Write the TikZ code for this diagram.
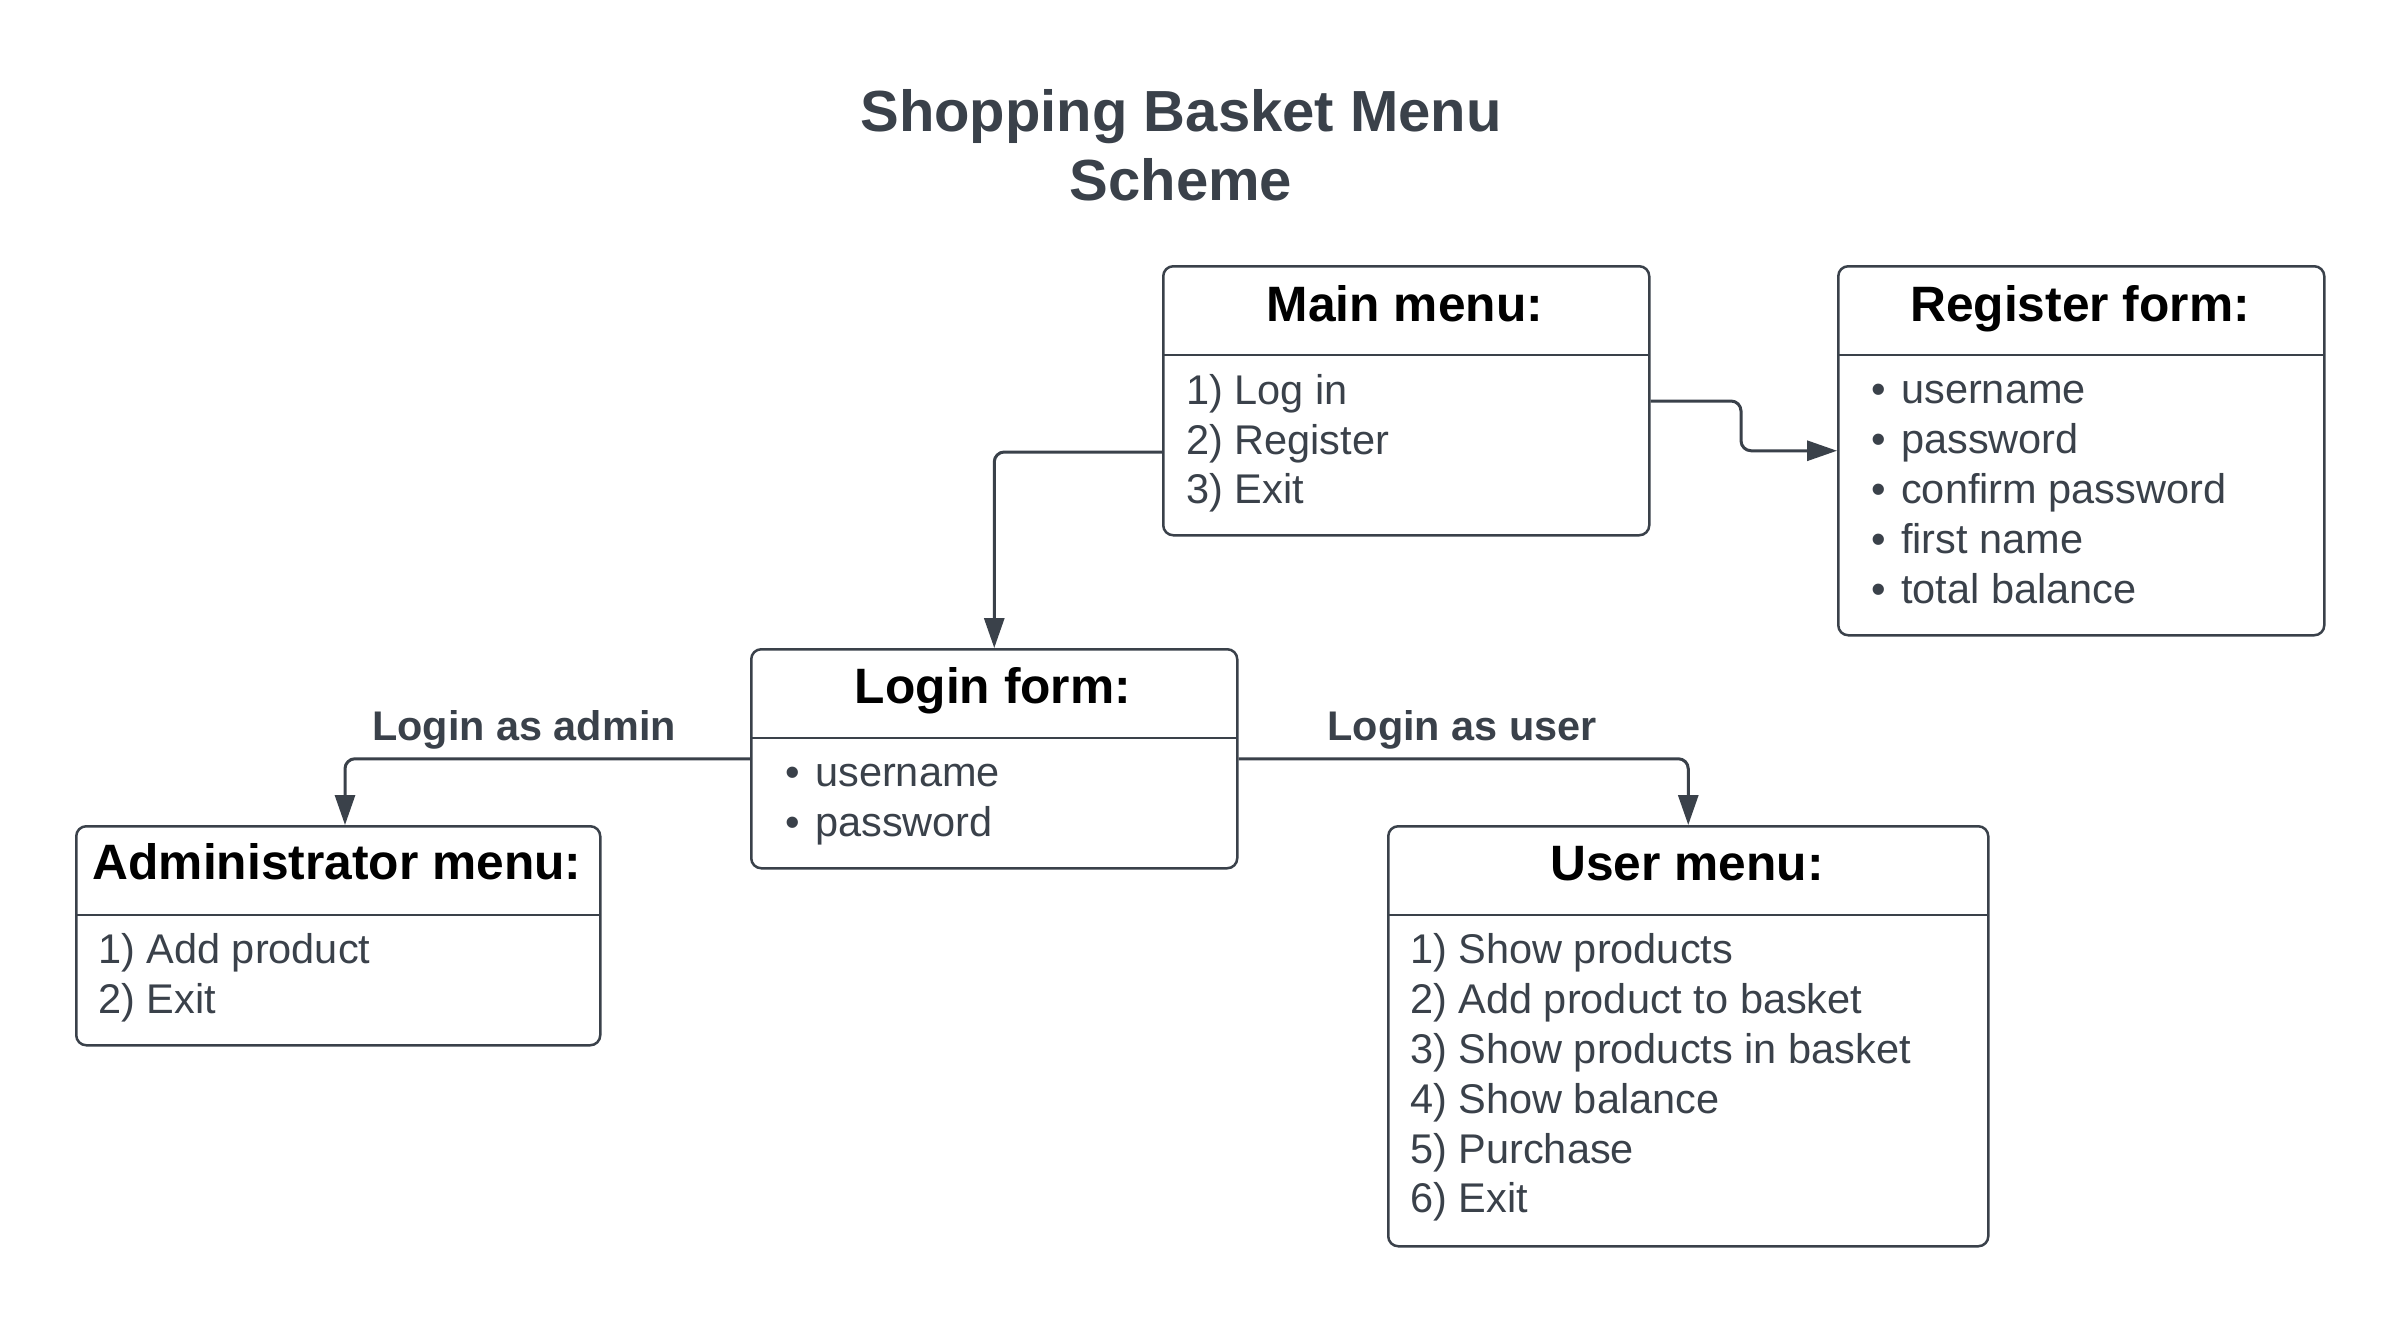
\documentclass[tikz,border=0pt]{standalone}
\usepackage{fontspec}
\setmainfont{Liberation Sans}
\usetikzlibrary{arrows.meta}
\definecolor{ink}{HTML}{3A414A}
\begin{document}
\begin{tikzpicture}[x=1pt,y=-1pt,
 box/.style={draw=ink, line width=2.5pt, rounded corners=10pt, fill=white, inner sep=0pt, anchor=north west},
 sep/.style={draw=ink, line width=2.5pt},
 head/.style={anchor=base, inner sep=0pt, font=\fontsize{49.7}{59}\selectfont\bfseries, text=black},
 item/.style={anchor=base west, inner sep=0pt, font=\fontsize{41.5}{49}\selectfont, text=ink},
 bul/.style={anchor=base, inner sep=0pt, font=\fontsize{41.5}{49}\selectfont, text=ink},
 lbl/.style={anchor=base, inner sep=0pt, font=\fontsize{41.4}{49}\selectfont\bfseries, text=ink},
 ttl/.style={anchor=base, inner sep=0pt, font=\fontsize{58}{69}\selectfont\bfseries, text=ink},
 conn/.style={draw=ink, line width=3pt, rounded corners=10pt, -{Triangle[length=30pt,width=20pt]}}]
\useasboundingbox[fill=white] (0,0) rectangle (2400,1320);

% title
\node[ttl] (t1) at (1181,131) {Shopping Basket Menu};
\node[ttl] (t2) at (1181,200) {Scheme};

% main menu
\node[box, minimum width=486pt, minimum height=269pt] (main) at (1162,265) {};
\draw[sep] (1162,355) -- (1648,355);
\node[head] (mainh) at (1405,321) {Main menu:};
\node[item] (m1t) at (1186,404) {1) Log in};
\node[item] (m2t) at (1186,454) {2) Register};
\node[item] (m3t) at (1186,503) {3) Exit};

% register form
\node[box, minimum width=486pt, minimum height=369pt] (register) at (1837,265) {};
\draw[sep] (1837,355) -- (2323,355);
\node[head] (regh) at (2080,321) {Register form:};
\foreach \y/\t [count=\i] in {403/username,453/password,503/confirm password,553/first name,603/total balance}{
  \node[bul] (rb\i) at (1879,\y) {•};
  \node[item] (rt\i) at (1901,\y) {\t};
}

% login form
\node[box, minimum width=486pt, minimum height=219pt] (login) at (750,648) {};
\draw[sep] (750,738) -- (1236,738);
\node[head] (logh) at (993,703) {Login form:};
\node[bul] (lb1) at (793,786) {•};
\node[item] (lt1) at (815,786) {username};
\node[bul] (lb2) at (793,836) {•};
\node[item] (lt2) at (815,836) {password};

% administrator menu
\node[box, minimum width=524pt, minimum height=219pt] (admin) at (75,825) {};
\draw[sep] (75,915) -- (599,915);
\node[head] (admh) at (337,879) {Administrator menu:};
\node[item] (a1t) at (98,963) {1) Add product};
\node[item] (a2t) at (98,1013) {2) Exit};

% user menu
\node[box, minimum width=600pt, minimum height=420pt] (user) at (1387,825) {};
\draw[sep] (1387,915) -- (1987,915);
\node[head] (useh) at (1687,880) {User menu:};
\foreach \y/\t [count=\i] in {963/1) Show products,1013/2) Add product to basket,1063/3) Show products in basket,1113/4) Show balance,1163/5) Purchase,1212/6) Exit}{
  \node[item] (ut\i) at (1410,\y) {\t};
}

% connectors
\coordinate (cm) at (0,452);
\draw[conn] (main.west |- cm) -| (login.north);
\coordinate (cr) at (1741,401);
\draw[conn] (main.east |- cr) -- (cr) -- (cr |- register.west) -- (register.west);
\coordinate (ca) at (345,0);
\draw[conn] (login.west) -| (ca |- admin.north);
\draw[conn] (login.east) -| (user.north);

% labels
\node[lbl] (la) at (524,740) {Login as admin};
\node[lbl] (lu) at (1462,740) {Login as user};
\end{tikzpicture}
\end{document}
